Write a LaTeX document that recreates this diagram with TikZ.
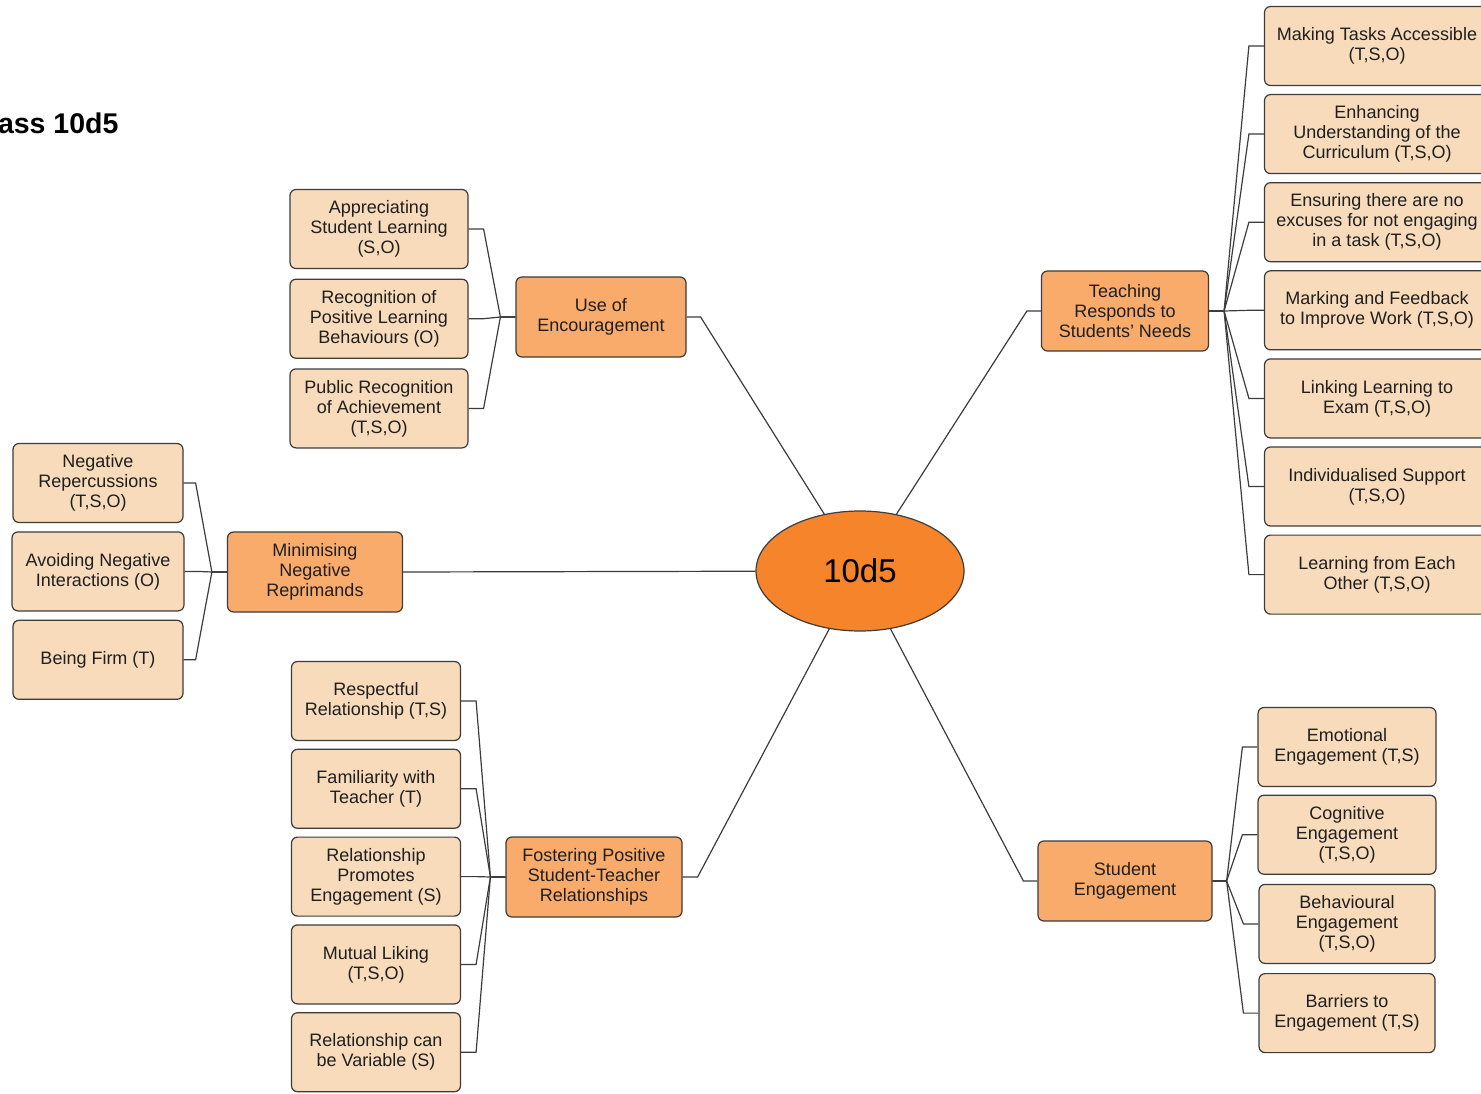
\documentclass[tikz,border=0pt]{standalone}
\usepackage{fontspec}
\setmainfont{Liberation Sans}
\usetikzlibrary{positioning}
\usetikzlibrary{shapes.geometric}
\definecolor{hubfill}{HTML}{F6842A}
\definecolor{midfill}{HTML}{F9AB6B}
\definecolor{leaffill}{HTML}{F8DBBA}
\definecolor{edgegray}{HTML}{3C3C3C}

\begin{document}
\begin{tikzpicture}[x=1pt,y=-1pt,
  box/.style={draw=edgegray,line width=1.2pt,rounded corners=6pt,align=center,text=black!88,inner sep=2pt,font=\fontsize{18}{20}\selectfont},
  leaf/.style={box,fill=leaffill,minimum height=79pt,minimum width=#1},
  mid/.style={box,fill=midfill,minimum height=80pt,minimum width=#1},
  link/.style={draw=edgegray,line width=1.2pt}]
\useasboundingbox (0,0) rectangle (1481,1094);

\node[font=\fontsize{28.5}{30}\selectfont\bfseries,anchor=base east] (cls) at (122,134) {Class 10d5};

\node[ellipse,draw=edgegray,line width=1.2pt,fill=hubfill,minimum width=208pt,minimum height=120pt,font=\fontsize{33}{36}\selectfont] (core) at (860,571) {10d5};

\node[mid=170pt] (enc) at (601,317) {Use of\\Encouragement};
\node[mid=175pt] (mini) at (315,572) {Minimising\\Negative\\Reprimands};
\node[mid=176pt] (fost) at (594,877) {Fostering Positive\\Student-Teacher\\Relationships};
\node[mid=167pt] (teach) at (1125,311) {Teaching\\Responds to\\Students’ Needs};
\node[mid=174pt] (stud) at (1125,881) {Student\\Engagement};

% encouragement
\node[leaf=178pt] (apprec) at (379,229) {Appreciating\\Student Learning\\(S,O)};
\node[leaf=178pt,below=9.5pt of apprec] (recog) {Recognition of\\Positive Learning\\Behaviours (O)};
\node[leaf=178pt,below=9.5pt of recog] (public) {Public Recognition\\of Achievement\\(T,S,O)};

% reprimands
\node[leaf=170pt] (reperc) at (98,483) {Negative\\Repercussions\\(T,S,O)};
\node[leaf=172pt,below=8.2pt of reperc] (avoid) {Avoiding Negative\\Interactions (O)};
\node[leaf=170pt,below=8.2pt of avoid] (firm) {Being Firm (T)};

% relationships
\node[leaf=169pt] (respect) at (376,701) {Respectful\\Relationship (T,S)};
\node[leaf=169pt,below=7.6pt of respect] (famil) {Familiarity with\\Teacher (T)};
\node[leaf=169pt,below=7.6pt of famil] (promote) {Relationship\\Promotes\\Engagement (S)};
\node[leaf=169pt,below=7.6pt of promote] (mutual) {Mutual Liking\\(T,S,O)};
\node[leaf=169pt,below=7.6pt of mutual] (variable) {Relationship can\\be Variable (S)};

% students' needs
\node[leaf=225pt] (access) at (1377,46) {Making Tasks Accessible\\(T,S,O)};
\node[leaf=225pt,below=7.9pt of access] (curric) {Enhancing\\Understanding of the\\Curriculum (T,S,O)};
\node[leaf=225pt,below=7.9pt of curric] (excuse) {Ensuring there are no\\excuses for not engaging\\in a task (T,S,O)};
\node[leaf=225pt,below=7.9pt of excuse] (feedb) {Marking and Feedback\\to Improve Work (T,S,O)};
\node[leaf=225pt,below=7.9pt of feedb] (exam) {Linking Learning to\\Exam (T,S,O)};
\node[leaf=225pt,below=7.9pt of exam] (indiv) {Individualised Support\\(T,S,O)};
\node[leaf=225pt,below=7.9pt of indiv] (peers) {Learning from Each\\Other (T,S,O)};

% engagement
\node[leaf=178pt] (emot) at (1347,747) {Emotional\\Engagement (T,S)};
\node[leaf=178pt,below=7.5pt of emot] (cogn) {Cognitive\\Engagement\\(T,S,O)};
\node[leaf=176pt,below=9pt of cogn] (behav) {Behavioural\\Engagement\\(T,S,O)};
\node[leaf=176pt,below=9pt of behav] (barr) {Barriers to\\Engagement (T,S)};

% branches
\draw[link] (enc.east) -- ++(14,0) -- (core);
\draw[link] (teach.west) -- ++(-14,0) -- (core);
\draw[link] (mini.east) -- (core);
\draw[link] (fost.east) -- ++(15,0) -- (core);
\draw[link] (stud.west) -- ++(-14,0) -- (core);

\foreach \n in {apprec,recog,public}
  \draw[link] (enc.west) -- ++(-15,0) -- ([xshift=15pt]\n.east) -- (\n.east);
\foreach \n in {reperc,avoid,firm}
  \draw[link] (mini.west) -- ++(-15,0) -- ([xshift=12pt]\n.east) -- (\n.east);
\foreach \n in {respect,famil,promote,mutual,variable}
  \draw[link] (fost.west) -- ++(-15,0) -- ([xshift=15pt]\n.east) -- (\n.east);
\foreach \n in {access,curric,excuse,feedb,exam,indiv,peers}
  \draw[link] (teach.east) -- ++(15,0) -- ([xshift=-15pt]\n.west) -- (\n.west);
\foreach \n in {emot,cogn,behav,barr}
  \draw[link] (stud.east) -- ++(14,0) -- ([xshift=-15pt]\n.west) -- (\n.west);
\end{tikzpicture}
\end{document}
